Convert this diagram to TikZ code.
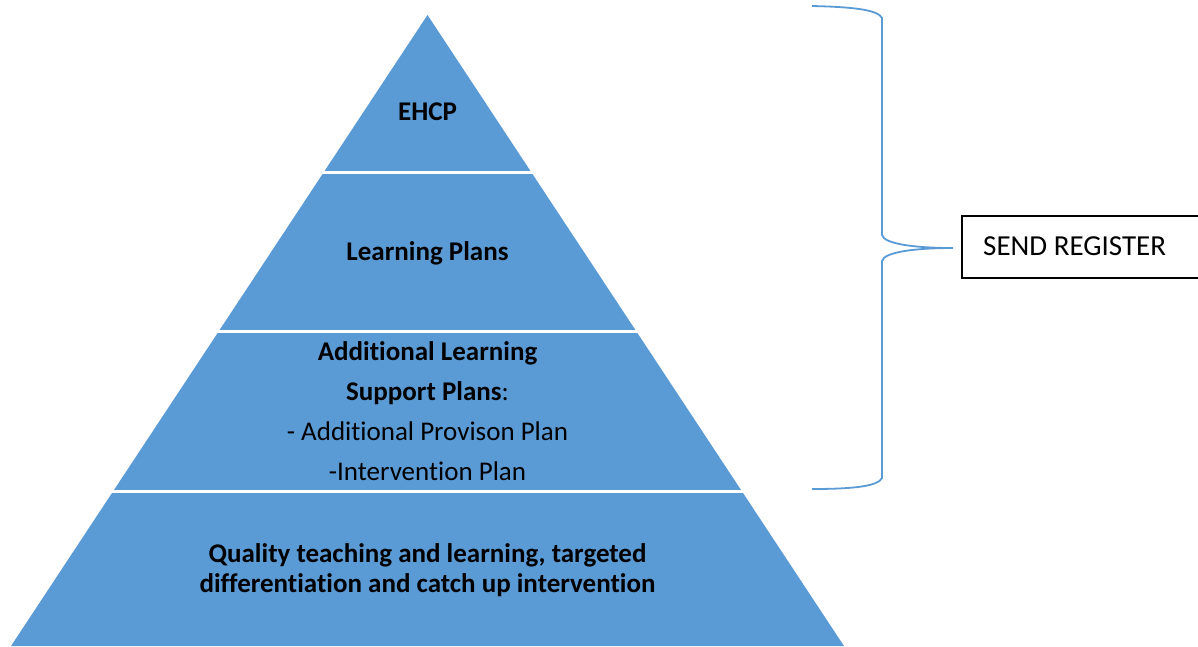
\documentclass[tikz,border=0pt]{standalone}
\usepackage{fontspec}
\setmainfont[RawFeature={-liga;-clig;-dlig;-calt}]{Carlito}
\definecolor{pyblue}{HTML}{5B9BD5}
\begin{document}
\begin{tikzpicture}[x=1pt,y=-1pt,
  band/.style={fill=pyblue,draw=none},
  sep/.style={draw=white,line width=3pt},
  lbl/.style={font=\fontsize{27}{40}\selectfont\bfseries,text=black,align=center,inner sep=0pt},
  brace/.style={draw=pyblue,line width=1.8pt},
  regbox/.style={draw=black,line width=1.8pt,minimum height=62pt,minimum width=250pt,anchor=north west,inner sep=0pt}]
\useasboundingbox (0,0) rectangle (1198,646);
\begin{scope}
\clip (0,0) rectangle (1198,646);
% pyramid
\coordinate (apex) at (427.5,15);
\coordinate (bl) at (11,646);
\coordinate (br) at (844,646);
\path[band] (apex) -- (br) -- (bl) -- cycle;
\draw[sep] (310,172) -- (545,172);
\draw[sep] (205,331.5) -- (650,331.5);
\draw[sep] (100,491) -- (755,491);
% labels
\node[lbl] (ehcp) at (427.5,112) {EHCP};
\node[lbl] (lp) at (427.5,253) {Learning Plans};
\node[lbl,font=\fontsize{27}{40}\selectfont] (alsp) at (427.5,411)
  {\textbf{Additional Learning}\\ \textbf{Support Plans}:\\ - Additional Provison Plan\\ -Intervention Plan};
\node[lbl,font=\fontsize{27}{30}\selectfont\bfseries] (qt) at (427.5,570)
  {Quality teaching and learning, targeted\\ differentiation and catch up intervention};
% register box
\node[regbox] (reg) at (961,215) {};
\node[font=\fontsize{29}{32}\selectfont,anchor=west,inner sep=0pt] (regtxt) at (983,246) {SEND REGISTER};
% brace
\coordinate (btop) at (812,6);
\coordinate (bbot) at (812,489);
\coordinate (tip) at (953,248);
\draw[brace] (btop) .. controls (855,7) and (878,10) .. (882,18)
  -- (882,235) .. controls (884,244) and (915,248) .. (tip)
  .. controls (915,248) and (884,252) .. (882,261)
  -- (882,478) .. controls (878,486) and (855,489) .. (bbot);
\end{scope}
\end{tikzpicture}
\end{document}
